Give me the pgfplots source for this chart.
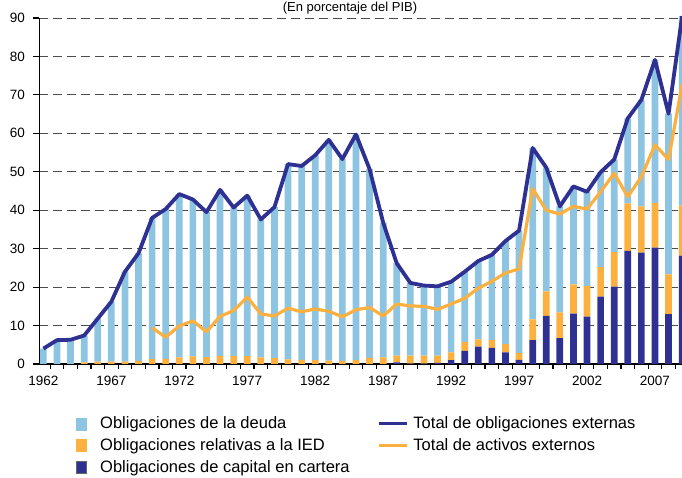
\documentclass[border=0pt]{standalone}
\usepackage{fontspec}
\setmainfont{Liberation Sans}
\usepackage{pgfplots}
\pgfplotsset{compat=1.18}
\usepackage{pgfplotstable}
\definecolor{debtc}{RGB}{140,196,226}
\definecolor{fdic}{RGB}{251,176,64}
\definecolor{eqc}{RGB}{46,49,146}

\pgfplotstableread{
year total eq fdi debt
1962 4.0 0 0 4.0
1963 6.2 0 0 6.2
1964 6.3 0 0 6.3
1965 7.4 0 0.4 7.0
1966 11.8 0 0.6 11.2
1967 16.2 0 0.6 15.6
1968 24.0 0 0.6 23.4
1969 28.8 0 0.8 28.0
1970 38.0 0 1.3 36.7
1971 40.3 0 1.3 39.0
1972 44.2 0 1.7 42.5
1973 42.8 0 2.0 40.8
1974 39.5 0 1.8 37.7
1975 45.3 0 2.1 43.2
1976 40.7 0 2.1 38.6
1977 43.8 0 2.1 41.7
1978 37.6 0 1.7 35.9
1979 40.8 0 1.5 39.3
1980 52.0 0 1.2 50.8
1981 51.5 0 1.1 50.4
1982 54.3 0 1.0 53.3
1983 58.3 0 0.9 57.4
1984 53.3 0 0.8 52.5
1985 59.7 0 1.0 58.7
1986 50.7 0 1.6 49.1
1987 36.8 0 1.7 35.1
1988 26.2 0.4 1.8 24.0
1989 21.1 0.1 2.1 18.9
1990 20.4 0.1 2.1 18.2
1991 20.2 0.3 1.9 18.0
1992 21.4 1.0 2.0 18.4
1993 24.0 3.4 2.3 18.3
1994 26.8 4.5 1.9 20.4
1995 28.4 4.2 2.1 22.1
1996 32.0 3.0 2.2 26.8
1997 34.7 1.1 1.8 31.8
1998 56.2 6.2 5.4 44.6
1999 51.1 12.5 6.4 32.2
2000 41.0 6.7 6.7 27.6
2001 46.2 13.1 7.6 25.5
2002 44.8 12.3 8.0 24.5
2003 49.9 17.5 7.7 24.7
2004 53.2 20.1 9.0 24.1
2005 63.9 29.4 12.4 22.1
2006 68.7 29.0 12.0 27.7
2007 79.1 30.3 11.6 37.2
2008 65.1 13.0 10.3 41.8
2009 90.5 28.2 13.0 49.3
}\liab

\pgfplotstableread{
year assets
1970 9.4
1971 7.0
1972 9.9
1973 11.2
1974 8.4
1975 12.4
1976 13.9
1977 17.4
1978 13.0
1979 12.5
1980 14.5
1981 13.6
1982 14.3
1983 13.7
1984 12.3
1985 14.1
1986 14.7
1987 12.5
1988 15.6
1989 15.1
1990 15.0
1991 14.2
1992 15.6
1993 17.1
1994 19.7
1995 21.5
1996 23.7
1997 24.7
1998 45.6
1999 40.0
2000 39.0
2001 41.0
2002 40.3
2003 44.8
2004 49.6
2005 43.5
2006 48.7
2007 57.0
2008 53.2
2009 72.8
}\assets

\pgfplotsset{
  common/.style={
    at={(39.3pt,114pt)}, anchor=south west,
    scale only axis, width=651pt, height=346pt,
    xmin=1961.7, xmax=2009.6, ymin=0, ymax=90,
    clip=false,
  }
}

\begin{document}
\begin{tikzpicture}[x=1pt,y=1pt]
\begin{axis}[
  common,
  axis x line*=bottom, axis y line*=left,
  axis line style={line width=1.3pt, -, black},
  ybar stacked, bar width=6.7pt,
  ytick={0,10,...,90},
  ymajorgrids,
  grid style={line width=0.9pt, black!70, dash pattern=on 9pt off 5pt},
  xtick={1962,1967,...,2007},
  minor xtick={1961.5,1962.5,...,2009.5},
  tick align=outside,
  major tick length=6pt, minor tick length=5pt,
  major x tick style={draw=none},
  tick style={line width=1.2pt, black},
  minor tick style={line width=1.2pt, black},
  /pgf/number format/.cd, 1000 sep={}, assume math mode=true,
  /pgfplots/.cd,
  ticklabel style={font=\fontsize{13.5}{15}\selectfont},
  yticklabel style={xshift=-5pt},
  xticklabel style={yshift=-3pt},
]
\addplot[fill=eqc, draw=none] table[x=year, y=eq] {\liab};
\addplot[fill=fdic, draw=none] table[x=year, y=fdi] {\liab};
\addplot[fill=debtc, draw=none] table[x=year, y=debt] {\liab};
\end{axis}
\begin{axis}[
  common,
  hide axis,
  legend columns=2,
  legend cell align=left,
  legend style={at={(0.051,-0.141)}, anchor=north west, draw=none, fill=none,
    font=\fontsize{16.5}{19}\selectfont, row sep=4.5pt,
    /tikz/every even column/.append style={column sep=26pt}},
]
\addplot[eqc, line width=3.8pt, line join=round, forget plot] table[x=year, y=total] {\liab};
\addplot[fdic, line width=3.2pt, line join=round, forget plot] table[x=year, y=assets] {\assets};
\addlegendimage{legend image code/.code={\fill[debtc] (0pt,-6pt) rectangle (10pt,6pt); \path (22pt,0pt);}}
\addlegendentry{Obligaciones de la deuda}
\addlegendimage{legend image code/.code={\draw[eqc, line width=3.2pt] (0pt,0pt) -- (28pt,0pt); \path (32pt,0pt);}}
\addlegendentry{Total de obligaciones externas}
\addlegendimage{legend image code/.code={\fill[fdic] (0pt,-6pt) rectangle (10pt,6pt); \path (22pt,0pt);}}
\addlegendentry{Obligaciones relativas a la IED}
\addlegendimage{legend image code/.code={\draw[fdic, line width=3.2pt] (0pt,0pt) -- (28pt,0pt); \path (32pt,0pt);}}
\addlegendentry{Total de activos externos}
\addlegendimage{legend image code/.code={\fill[eqc] (0pt,-6pt) rectangle (10pt,6pt); \draw[black!60, line width=0.6pt] (0pt,-6pt) rectangle (10pt,6pt); \path (22pt,0pt);}}
\addlegendentry{Obligaciones de capital en cartera}
\end{axis}
\node[anchor=base, font=\fontsize{13}{15}\selectfont] at (350,466) {(En porcentaje del PIB)};
\pgfresetboundingbox
\useasboundingbox (0,0) rectangle (682,478);
\end{tikzpicture}
\end{document}
